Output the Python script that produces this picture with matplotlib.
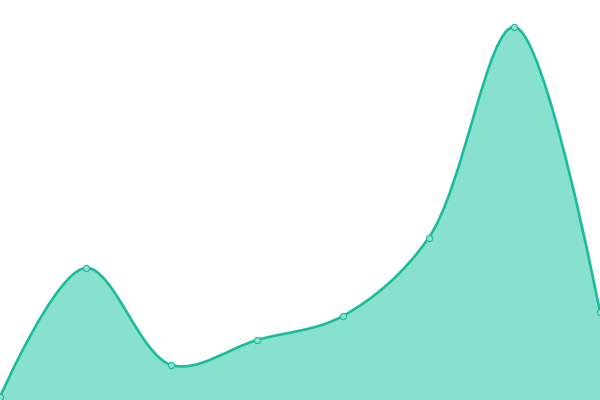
import matplotlib
matplotlib.use('Agg')
import matplotlib.pyplot as plt
import numpy as np
from matplotlib.path import Path
from matplotlib.patches import PathPatch

# Values (pixel heights above the bottom edge).
labels = ['1', '2', '3', '4', '5', '6', '7', '8']
values = [3, 132, 35, 60, 84, 162, 373, 88]

line_color = '#1abc9c'
fill_color = '#88e0cf'
W, H = 600, 400

x = np.arange(len(values), dtype=float)
y = np.array(values, dtype=float)
xscale = W / (len(values) - 1)

# centripetal Catmull-Rom (alpha 0.5), worked out in screen units
P = np.column_stack([x * xscale, y])
alpha = 0.5


def dist_a(p, q):
    d2 = np.sum((p - q) ** 2)
    return d2 ** (alpha / 2), d2 ** alpha


verts = [tuple(P[0])]
codes = [Path.MOVETO]
for i in range(len(P) - 1):
    p1, p2 = P[i], P[i + 1]
    l12_a, l12_2a = dist_a(p1, p2)
    c1 = p1.copy()
    c2 = p2.copy()
    if i > 0:
        p0 = P[i - 1]
        l01_a, l01_2a = dist_a(p0, p1)
        a = 2 * l01_2a + 3 * l01_a * l12_a + l12_2a
        n = 3 * l01_a * (l01_a + l12_a)
        c1 = (p1 * a - p0 * l12_2a + p2 * l01_2a) / n
    if i + 2 < len(P):
        p3 = P[i + 2]
        l23_a, l23_2a = dist_a(p2, p3)
        b = 2 * l23_2a + 3 * l23_a * l12_a + l12_2a
        m = 3 * l23_a * (l23_a + l12_a)
        c2 = (p2 * b + p1 * l23_2a - p3 * l12_2a) / m
    verts += [tuple(c1), tuple(c2), tuple(p2)]
    codes += [Path.CURVE4] * 3

verts = [(vx / xscale, vy) for vx, vy in verts]

fig = plt.figure(figsize=(6, 4), dpi=100)
ax = fig.add_axes([0, 0, 1, 1])

fill_verts = verts + [(x[-1], 0), (x[0], 0), verts[0]]
fill_codes = codes + [Path.LINETO, Path.LINETO, Path.CLOSEPOLY]
ax.add_patch(PathPatch(Path(fill_verts, fill_codes), facecolor=fill_color,
                       edgecolor='none'))
ax.add_patch(PathPatch(Path(verts, codes), facecolor='none',
                       edgecolor=line_color, linewidth=1.9, capstyle='round'))
ax.plot(x, y, 'o', markersize=4.5, markerfacecolor='#8be0cf',
        markeredgecolor=line_color, markeredgewidth=0.8, clip_on=False, zorder=5)

ax.set_xlim(0, len(values) - 1)
ax.set_ylim(0, H)
ax.axis('off')

fig.savefig('out.png', dpi=100)
